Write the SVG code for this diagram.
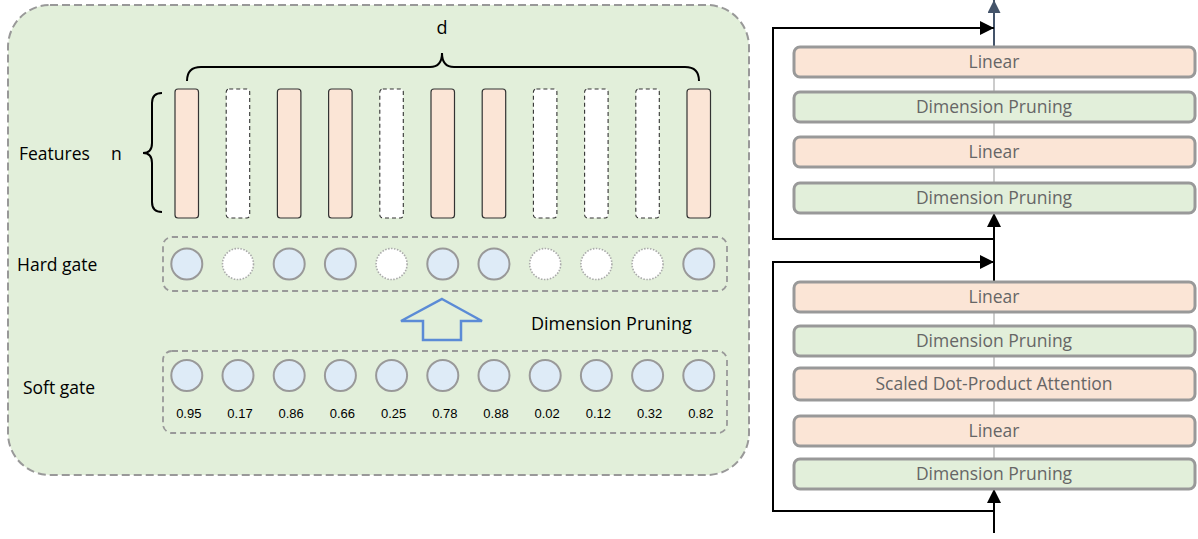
<svg xmlns="http://www.w3.org/2000/svg" width="1198" height="539" viewBox="0 0 1198 539">
<defs>
<style>
.lbl{font-family:"Open Sans","Noto Sans","Liberation Sans",sans-serif;fill:#000}
.num{font-family:"Liberation Sans",Arial,sans-serif;font-size:13px;fill:#000;text-anchor:middle}
.bar{fill:#FBE5D6;stroke:#333;stroke-width:1.2}
.barx{fill:#fff;stroke:#333;stroke-width:1.1;stroke-dasharray:4 3}
.c{fill:#DEEBF7;stroke:#999;stroke-width:2}
.cx{fill:#fff;stroke:#aaa;stroke-width:1.6;stroke-dasharray:1.5 1.5}
.gbox{fill:none;stroke:#999;stroke-width:1.8;stroke-dasharray:6 4}
.pk{fill:#FBE5D6;stroke:#999;stroke-width:3}
.gr{fill:#E2EFDA;stroke:#999;stroke-width:3}
.bt{font-family:"Open Sans","Noto Sans","Liberation Sans",sans-serif;font-size:17.5px;fill:#666;text-anchor:middle}
.k{fill:none;stroke:#000;stroke-width:2}
</style>
<marker id="ah" viewBox="0 0 10 10" refX="10" refY="5" markerWidth="14" markerHeight="14" markerUnits="userSpaceOnUse" orient="auto"><path d="M0,0 L10,5 L0,10 Z" fill="#000"/></marker>
<marker id="ahb" viewBox="0 0 10 10" refX="10" refY="5" markerWidth="13" markerHeight="13" markerUnits="userSpaceOnUse" orient="auto"><path d="M0,0 L10,5 L0,10 Z" fill="#44546A"/></marker>
</defs>

<g id="panel">
<rect x="8" y="5" width="741" height="470" rx="42" fill="#E2EFDA" stroke="#999" stroke-width="2" stroke-dasharray="8 4"/>
</g>

<g id="brace-d">
<path class="k" d="M187,81 Q187,67 201,67 L430,67 Q442,67 442,53 Q442,67 454,67 L685,67 Q699,67 699,81"/>
<text class="lbl" x="442" y="34" font-size="18" text-anchor="middle">d</text>
</g>
<g id="brace-n">
<path class="k" d="M162,93 Q152,93 152,103 L152,143 Q152,153 143,153 Q152,153 152,163 L152,202 Q152,212 162,212"/>
<text class="lbl" x="19" y="160" font-size="17.5">Features</text>
<text class="lbl" x="111" y="160" font-size="17.5">n</text>
</g>

<g id="features">
<rect class="bar" x="175" y="89" width="23.5" height="129" rx="3"/>
<rect class="barx" x="226.2" y="89" width="23.5" height="129" rx="3"/>
<rect class="bar" x="277.4" y="89" width="23.5" height="129" rx="3"/>
<rect class="bar" x="328.6" y="89" width="23.5" height="129" rx="3"/>
<rect class="barx" x="379.8" y="89" width="23.5" height="129" rx="3"/>
<rect class="bar" x="431" y="89" width="23.5" height="129" rx="3"/>
<rect class="bar" x="482.2" y="89" width="23.5" height="129" rx="3"/>
<rect class="barx" x="533.4" y="89" width="23.5" height="129" rx="3"/>
<rect class="barx" x="584.6" y="89" width="23.5" height="129" rx="3"/>
<rect class="barx" x="635.8" y="89" width="23.5" height="129" rx="3"/>
<rect class="bar" x="687" y="89" width="23.5" height="129" rx="3"/>
</g>

<g id="hard-gate">
<text class="lbl" x="17" y="271" font-size="17.5">Hard gate</text>
<rect class="gbox" x="163" y="237" width="564" height="54" rx="9"/>
<circle class="c" cx="186.8" cy="264" r="15.5"/>
<circle class="cx" cx="238" cy="264" r="15.5"/>
<circle class="c" cx="289.2" cy="264" r="15.5"/>
<circle class="c" cx="340.4" cy="264" r="15.5"/>
<circle class="cx" cx="391.6" cy="264" r="15.5"/>
<circle class="c" cx="442.8" cy="264" r="15.5"/>
<circle class="c" cx="494" cy="264" r="15.5"/>
<circle class="cx" cx="545.2" cy="264" r="15.5"/>
<circle class="cx" cx="596.4" cy="264" r="15.5"/>
<circle class="cx" cx="647.6" cy="264" r="15.5"/>
<circle class="c" cx="698.8" cy="264" r="15.5"/>
</g>

<g id="pruning-arrow">
<path d="M442,299 L482,321 L461,321 L461,340 L423,340 L423,321 L401,321 Z" fill="none" stroke="#5B8BD6" stroke-width="2.5" stroke-linejoin="miter"/>
<text class="lbl" x="531" y="330" font-size="18">Dimension Pruning</text>
</g>

<g id="soft-gate">
<text class="lbl" x="23" y="394" font-size="17.5">Soft gate</text>
<rect class="gbox" x="163" y="351" width="564" height="82" rx="9"/>
<circle class="c" cx="186.8" cy="375.5" r="15.5"/>
<circle class="c" cx="238" cy="375.5" r="15.5"/>
<circle class="c" cx="289.2" cy="375.5" r="15.5"/>
<circle class="c" cx="340.4" cy="375.5" r="15.5"/>
<circle class="c" cx="391.6" cy="375.5" r="15.5"/>
<circle class="c" cx="442.8" cy="375.5" r="15.5"/>
<circle class="c" cx="494" cy="375.5" r="15.5"/>
<circle class="c" cx="545.2" cy="375.5" r="15.5"/>
<circle class="c" cx="596.4" cy="375.5" r="15.5"/>
<circle class="c" cx="647.6" cy="375.5" r="15.5"/>
<circle class="c" cx="698.8" cy="375.5" r="15.5"/>
<text class="num" x="188.8" y="418">0.95</text>
<text class="num" x="240" y="418">0.17</text>
<text class="num" x="291.2" y="418">0.86</text>
<text class="num" x="342.4" y="418">0.66</text>
<text class="num" x="393.6" y="418">0.25</text>
<text class="num" x="444.8" y="418">0.78</text>
<text class="num" x="496" y="418">0.88</text>
<text class="num" x="547.2" y="418">0.02</text>
<text class="num" x="598.4" y="418">0.12</text>
<text class="num" x="649.6" y="418">0.32</text>
<text class="num" x="700.8" y="418">0.82</text>
</g>

<g id="connectors">
<line x1="994" y1="77" x2="994" y2="92" stroke="#aaa" stroke-width="1.2"/>
<line x1="994" y1="122" x2="994" y2="137" stroke="#aaa" stroke-width="1.2"/>
<line x1="994" y1="167" x2="994" y2="183" stroke="#aaa" stroke-width="1.2"/>
<line x1="994" y1="312" x2="994" y2="326" stroke="#aaa" stroke-width="1.2"/>
<line x1="994" y1="356" x2="994" y2="368" stroke="#aaa" stroke-width="1.2"/>
<line x1="994" y1="400" x2="994" y2="416" stroke="#aaa" stroke-width="1.2"/>
<line x1="994" y1="446" x2="994" y2="459" stroke="#aaa" stroke-width="1.2"/>
<line x1="994" y1="47" x2="994" y2="0" stroke="#44546A" stroke-width="2" marker-end="url(#ahb)"/>
<polyline class="k" points="994,239 773,239 773,28 994,28" marker-end="url(#ah)"/>
<line class="k" x1="994" y1="282" x2="994" y2="213" marker-end="url(#ah)"/>
<polyline class="k" points="994,511 773,511 773,262 994,262" marker-end="url(#ah)"/>
<line class="k" x1="994" y1="533" x2="994" y2="489" marker-end="url(#ah)"/>
</g>

<g id="n-linear2"><rect class="pk" x="794" y="47" width="401" height="30" rx="6"/><text class="bt" x="994" y="68">Linear</text></g>
<g id="n-dp2b"><rect class="gr" x="794" y="92" width="401" height="30" rx="6"/><text class="bt" x="994" y="113">Dimension Pruning</text></g>
<g id="n-linear1"><rect class="pk" x="794" y="137" width="401" height="30" rx="6"/><text class="bt" x="994" y="158">Linear</text></g>
<g id="n-dp2a"><rect class="gr" x="794" y="183" width="401" height="30" rx="6"/><text class="bt" x="994" y="204">Dimension Pruning</text></g>
<g id="n-linear-out"><rect class="pk" x="794" y="282" width="401" height="30" rx="6"/><text class="bt" x="994" y="303">Linear</text></g>
<g id="n-dp1b"><rect class="gr" x="794" y="326" width="401" height="30" rx="6"/><text class="bt" x="994" y="347">Dimension Pruning</text></g>
<g id="n-sdpa"><rect class="pk" x="794" y="368" width="401" height="32" rx="6"/><text class="bt" x="994" y="390">Scaled Dot-Product Attention</text></g>
<g id="n-linear-in"><rect class="pk" x="794" y="416" width="401" height="30" rx="6"/><text class="bt" x="994" y="437">Linear</text></g>
<g id="n-dp1a"><rect class="gr" x="794" y="459" width="401" height="30" rx="6"/><text class="bt" x="994" y="480">Dimension Pruning</text></g>
</svg>
